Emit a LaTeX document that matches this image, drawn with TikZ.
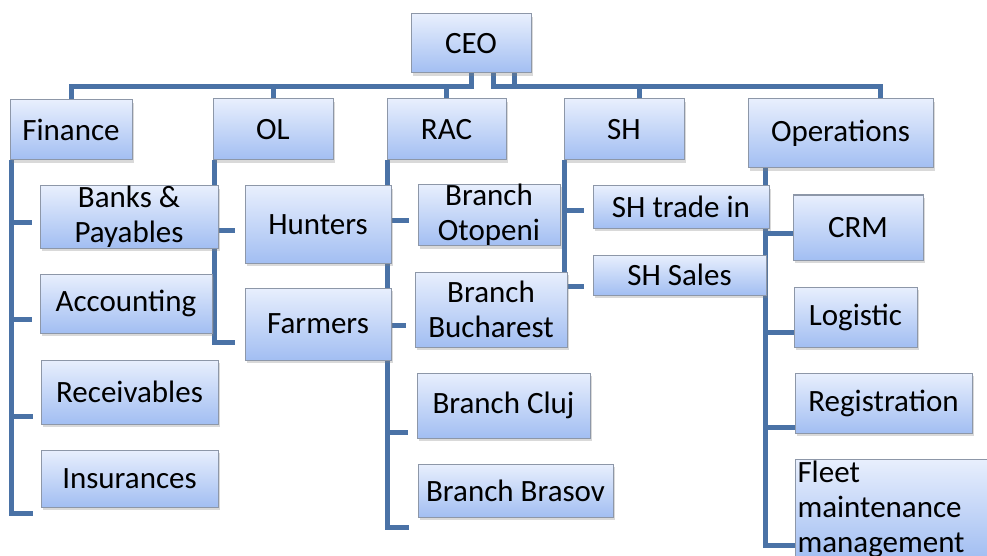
\documentclass[tikz,border=0pt]{standalone}
\usepackage{fontspec}
\setmainfont{Carlito}
\usepackage{tikz}
\usetikzlibrary{shadows,backgrounds}

\definecolor{boxtop}{HTML}{E8EFFD}
\definecolor{boxbot}{HTML}{A2BEF2}
\definecolor{boxline}{HTML}{8D97A8}
\definecolor{linkblue}{HTML}{4A72A6}

\tikzset{
  unit/.style={draw=boxline, line width=1pt, top color=boxtop, bottom color=boxbot,
               inner sep=0pt, align=center, font=\fontsize{31}{35}\selectfont,
               drop shadow={shadow xshift=2pt, shadow yshift=-3pt, opacity=0.3}},
  boxsize/.style 2 args={minimum width=#1pt, minimum height=#2pt},
  link/.style={draw=linkblue, line width=5pt}
}

\begin{document}
\begin{tikzpicture}[x=1pt, y=-1pt]
\useasboundingbox (0,0) rectangle (987,556);
\clip (0,0) rectangle (987,556);

\begin{scope}[every node/.style={unit}]
    \node[boxsize={120}{59}] (CEO) at (471,43.5) {CEO};
    % departments
    \node[boxsize={122}{60}] (Finance) at (71,130) {Finance};
    \node[boxsize={120}{61}] (OL) at (273,129.5) {OL};
    \node[boxsize={119}{61}] (RAC) at (446.5,129.5) {RAC};
    \node[boxsize={120}{61}] (SH) at (624,129.5) {SH};
    \node[boxsize={185}{69}] (Operations) at (840.5,133.5) {Operations};
    % finance
    \node[boxsize={178}{62}] (Banks) at (129,217) {Banks \&\\Payables};
    \node[boxsize={172}{59}] (Accounting) at (126,303.5) {Accounting};
    \node[boxsize={177}{64}] (Receivables) at (129.5,392) {Receivables};
    \node[boxsize={177}{57}] (Insurances) at (129.5,478.5) {Insurances};
    % OL
    \node[boxsize={146}{77}] (Hunters) at (318,224.5) {Hunters};
    \node[boxsize={146}{72}] (Farmers) at (318,324) {Farmers};
    % RAC
    \node[boxsize={142}{60}] (Otopeni) at (489,215) {Branch\\Otopeni};
    \node[boxsize={152}{75}] (Bucharest) at (491,309.5) {Branch\\Bucharest};
    \node[boxsize={173}{65}] (Cluj) at (503.5,405.5) {Branch Cluj};
    \node[boxsize={195}{53}] (Brasov) at (515.5,490.5) {Branch Brasov};
    % SH
    \node[boxsize={176}{42}] (TradeIn) at (681,207) {SH trade in};
    \node[boxsize={173}{40}] (Sales) at (679.5,275) {SH Sales};
    % operations
    \node[boxsize={130}{65}] (CRM) at (858,227.5) {CRM};
    \node[boxsize={123}{60}] (Logistic) at (855.5,317) {Logistic};
    \node[boxsize={177}{60}] (Registration) at (883.5,403) {Registration};
    \node[anchor=north west, text width=195pt, align=left, inner xsep=2pt, inner ysep=1pt]
        (Fleet) at (795,459) {Fleet\\maintenance\\management};
\end{scope}

\begin{scope}[on background layer]
    \coordinate (bus) at (0,87);
    \foreach \d in {Finance, OL, RAC}
        \draw[link] (CEO.south) -- (CEO.south |- bus) -| (\d.north);
    \draw[link] ([xshift=22pt]CEO.south) -- ([xshift=22pt]CEO.south |- bus) -| ([xshift=15pt]SH.north);
    \draw[link] ([xshift=43pt]CEO.south) -- ([xshift=43pt]CEO.south |- bus) -| ([xshift=39.5pt]Operations.north);

    \foreach \n/\y in {Banks/222, Accounting/319, Receivables/416, Insurances/513}
        \draw[link, shorten >=8pt] ([xshift=2pt]Finance.south west) |- (\n.west |- 0,\y);
    \foreach \n/\y in {Hunters/230, Farmers/342}
        \draw[link, shorten >=10pt] ([xshift=2pt]OL.south west) |- (\n.west |- 0,\y);
    \foreach \n/\y in {Otopeni/220, Bucharest/325, Cluj/432, Brasov/527}
        \draw[link, shorten >=9pt] ([xshift=1pt]RAC.south west) |- (\n.west |- 0,\y);
    \foreach \n/\y in {TradeIn/210, Sales/286}
        \draw[link, shorten >=9pt] ([xshift=1pt]SH.south west) |- (\n.west |- 0,\y);
    \foreach \n/\y in {CRM/233, Logistic/332, Registration/427, Fleet/545}
        \draw[link] ([xshift=18pt]Operations.south west) |- (\n.west |- 0,\y);
\end{scope}
\end{tikzpicture}
\end{document}
